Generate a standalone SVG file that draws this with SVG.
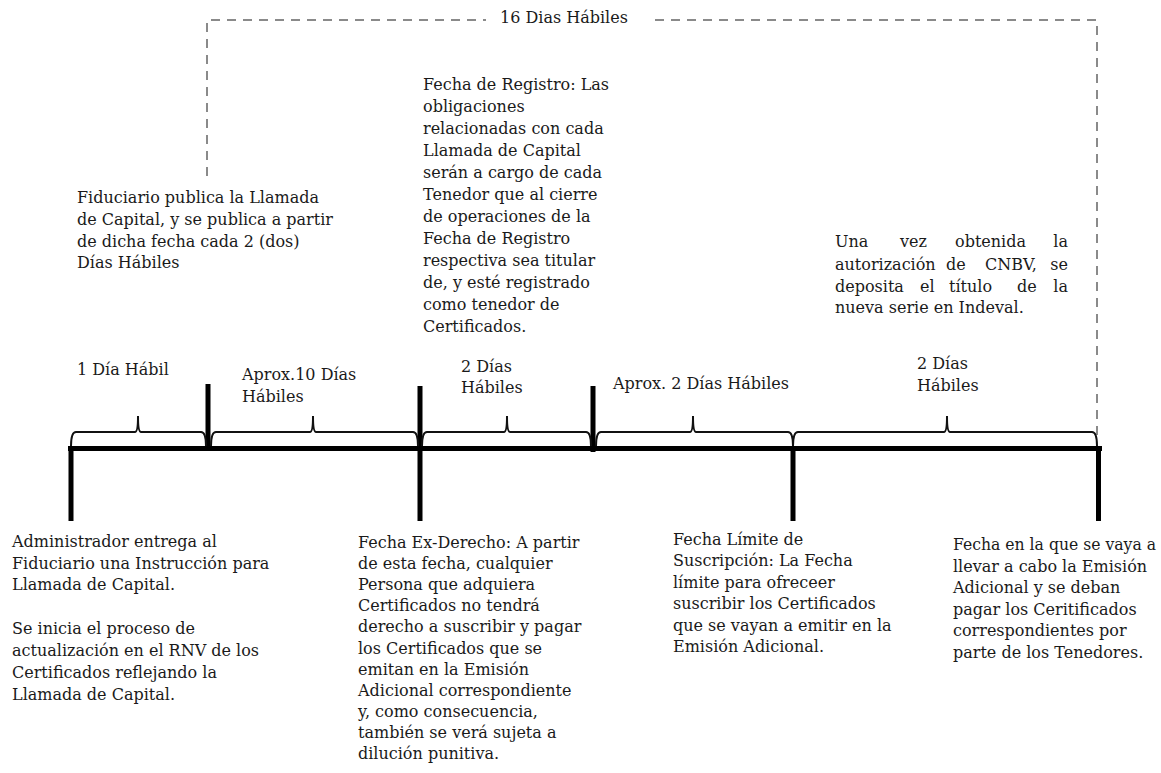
<svg xmlns="http://www.w3.org/2000/svg" width="1161" height="773" viewBox="0 0 1161 773">
<style>
text{font-family:"DejaVu Serif","Liberation Serif",serif;font-size:16px;fill:#1a1a1a}
.dash{fill:none;stroke:#8a8a8a;stroke-width:2;stroke-dasharray:9 7}
.brace{fill:none;stroke:#111;stroke-width:2}
.bar{fill:#000}
</style>
<rect width="1161" height="773" fill="#fff"/>
<g id="connectors">
<path class="dash" d="M207 176 V20 H486"/>
<path class="dash" d="M655 20 H1097 V440"/>
<rect class="bar" x="68" y="446" width="1034" height="5"/>
<rect class="bar" x="68.5" y="446" width="5" height="75"/>
<rect class="bar" x="205.5" y="384" width="5" height="66"/>
<rect class="bar" x="417.5" y="386" width="5" height="135"/>
<rect class="bar" x="590.5" y="386" width="5" height="66"/>
<rect class="bar" x="790.5" y="446" width="5" height="75"/>
<rect class="bar" x="1096" y="446" width="5" height="75"/>
<path class="brace" d="M71 446 Q71 432 76 432 H135 Q138 432 138 416 Q138 432 141 432 H201 Q206 432 206 446"/>
<path class="brace" d="M211 446 Q211 432 216 432 H310 Q313 432 313 416 Q313 432 316 432 H413 Q418 432 418 446"/>
<path class="brace" d="M422 446 Q422 432 427 432 H504 Q507 432 507 416 Q507 432 510 432 H586 Q591 432 591 446"/>
<path class="brace" d="M596 446 Q596 432 601 432 H690 Q693 432 693 416 Q693 432 696 432 H788 Q793 432 793 446"/>
<path class="brace" d="M793 446 Q793 432 798 432 H944 Q947 432 947 416 Q947 432 950 432 H1092 Q1097 432 1097 446"/>
</g>
<g id="label-16dias"><text x="500" y="23">16 Dias Hábiles</text></g>
<g id="label-1dia"><text x="77" y="375">1 Día Hábil</text></g>
<g id="label-10dias"><text x="242" y="380">Aprox.10 Días</text><text x="242" y="402">Hábiles</text></g>
<g id="label-2dias-a"><text x="461" y="372">2 Días</text><text x="461" y="393">Hábiles</text></g>
<g id="label-aprox2"><text x="613" y="389">Aprox. 2 Días Hábiles</text></g>
<g id="label-2dias-b"><text x="917" y="369">2 Días</text><text x="917" y="391">Hábiles</text></g>
<g id="node-fiduciario">
<text x="77" y="203">Fiduciario publica la Llamada</text>
<text x="77" y="225">de Capital, y se publica a partir</text>
<text x="77" y="247">de dicha fecha cada 2 (dos)</text>
<text x="77" y="268">Días Hábiles</text>
</g>
<g id="node-registro">
<text x="423" y="90">Fecha de Registro: Las</text>
<text x="423" y="112">obligaciones</text>
<text x="423" y="134">relacionadas con cada</text>
<text x="423" y="156">Llamada de Capital</text>
<text x="423" y="178">serán a cargo de cada</text>
<text x="423" y="200">Tenedor que al cierre</text>
<text x="423" y="222">de operaciones de la</text>
<text x="423" y="244">Fecha de Registro</text>
<text x="423" y="266">respectiva sea titular</text>
<text x="423" y="288">de, y esté registrado</text>
<text x="423" y="310">como tenedor de</text>
<text x="423" y="332">Certificados.</text>
</g>
<g id="node-cnbv">
<text x="835" y="247">Una</text><text x="900" y="247">vez</text><text x="955" y="247">obtenida</text><text x="1068" y="247" text-anchor="end">la</text>
<text x="835" y="270">autorización</text><text x="946" y="270">de</text><text x="985" y="270">CNBV,</text><text x="1068" y="270" text-anchor="end">se</text>
<text x="835" y="292">deposita</text><text x="920" y="292">el</text><text x="949" y="292">título</text><text x="1017" y="292">de</text><text x="1068" y="292" text-anchor="end">la</text>
<text x="835" y="313">nueva serie en Indeval.</text>
</g>
<g id="node-administrador">
<text x="12" y="547">Administrador entrega al</text>
<text x="12" y="569">Fiduciario una Instrucción para</text>
<text x="12" y="590">Llamada de Capital.</text>
<text x="12" y="634">Se inicia el proceso de</text>
<text x="12" y="656">actualización en el RNV de los</text>
<text x="12" y="678">Certificados reflejando la</text>
<text x="12" y="700">Llamada de Capital.</text>
</g>
<g id="node-exderecho">
<text x="358" y="548">Fecha Ex-Derecho: A partir</text>
<text x="358" y="569">de esta fecha, cualquier</text>
<text x="358" y="590">Persona que adquiera</text>
<text x="358" y="611">Certificados no tendrá</text>
<text x="358" y="632">derecho a suscribir y pagar</text>
<text x="358" y="654">los Certificados que se</text>
<text x="358" y="675">emitan en la Emisión</text>
<text x="358" y="696">Adicional correspondiente</text>
<text x="358" y="717">y, como consecuencia,</text>
<text x="358" y="738">también se verá sujeta a</text>
<text x="358" y="759">dilución punitiva.</text>
</g>
<g id="node-limite">
<text x="673" y="545">Fecha Límite de</text>
<text x="673" y="566">Suscripción: La Fecha</text>
<text x="673" y="588">límite para ofreceer</text>
<text x="673" y="609">suscribir los Certificados</text>
<text x="673" y="631">que se vayan a emitir en la</text>
<text x="673" y="652">Emisión Adicional.</text>
</g>
<g id="node-emision">
<text x="953" y="550" textLength="203" lengthAdjust="spacingAndGlyphs">Fecha en la que se vaya a</text>
<text x="953" y="572">llevar a cabo la Emisión</text>
<text x="953" y="593">Adicional y se deban</text>
<text x="953" y="615">pagar los Ceritificados</text>
<text x="953" y="636">correspondientes por</text>
<text x="953" y="658">parte de los Tenedores.</text>
</g>
</svg>
